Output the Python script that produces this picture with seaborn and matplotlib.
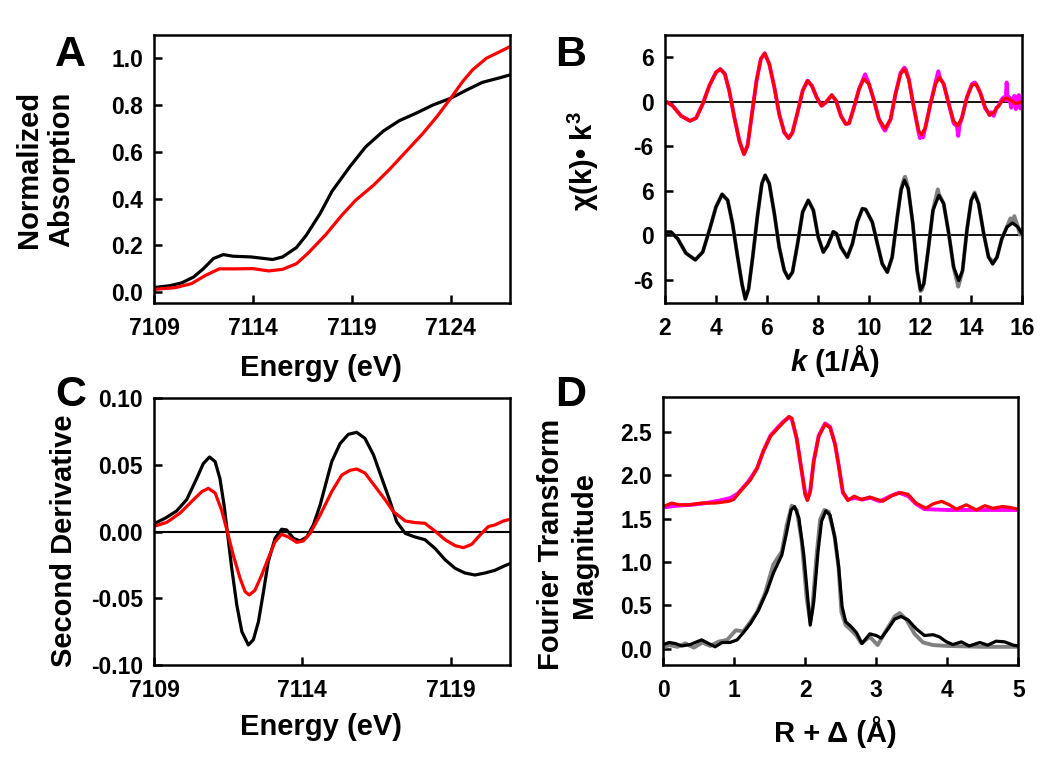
import numpy as np
import pandas as pd
import matplotlib
matplotlib.use('Agg')
import matplotlib.pyplot as plt
import seaborn as sns

# Panel A: normalized absorption edge (black and red samples)
a_black_e = [7109.0, 7109.8, 7110.4, 7111.0, 7111.5, 7112.0, 7112.5, 7113.0, 7113.9, 7115.0,
             7115.5, 7116.2, 7116.7, 7117.4, 7118.0, 7118.9, 7119.7, 7120.6, 7121.4, 7122.3,
             7123.1, 7124.0, 7124.8, 7125.6, 7126.5, 7127.0]
a_black_v = [0.019, 0.027, 0.039, 0.064, 0.100, 0.143, 0.160, 0.153, 0.150, 0.139,
             0.150, 0.190, 0.243, 0.336, 0.431, 0.536, 0.621, 0.689, 0.733, 0.767,
             0.800, 0.829, 0.864, 0.897, 0.917, 0.929]
a_red_e = [7109.0, 7110.1, 7110.9, 7111.6, 7112.3, 7113.1, 7114.0, 7114.8, 7115.5, 7116.2,
           7116.8, 7117.7, 7118.5, 7119.2, 7120.1, 7120.9, 7121.7, 7122.6, 7123.3, 7124.0,
           7124.6, 7125.1, 7125.8, 7126.5, 7127.0]
a_red_v = [0.011, 0.019, 0.036, 0.071, 0.099, 0.099, 0.100, 0.090, 0.097, 0.121,
           0.167, 0.247, 0.329, 0.393, 0.457, 0.524, 0.597, 0.679, 0.750, 0.829,
           0.900, 0.950, 1.000, 1.029, 1.050]

# Panel B: EXAFS chi(k)*k^3, upper pair (magenta data / red fit), lower pair (grey data / black fit)
b_red_k = [2.0, 2.3, 2.63, 2.98, 3.22, 3.48, 3.74, 4.0, 4.17, 4.35,
           4.52, 4.72, 4.92, 5.10, 5.24, 5.41, 5.59, 5.76, 5.91, 6.09,
           6.29, 6.48, 6.68, 6.85, 7.0, 7.2, 7.4, 7.59, 7.76, 7.95,
           8.14, 8.31, 8.54, 8.71, 8.90, 9.09, 9.22, 9.41, 9.61, 9.80,
           10.0, 10.2, 10.39, 10.63, 10.85, 11.04, 11.24, 11.39, 11.56, 11.76,
           11.95, 12.06, 12.21, 12.41, 12.61, 12.76, 12.93, 13.13, 13.32, 13.48,
           13.65, 13.84, 14.04, 14.2, 14.36, 14.56, 14.73, 14.89, 15.08, 15.28,
           15.41, 15.58, 15.73, 15.93, 16.0]
b_red_v = [0.14, -0.54, -1.9, -2.57, -2.2, -0.3, 2.16, 3.96, 4.41, 3.74,
           1.49, -2.1, -5.3, -7.07, -5.9, -1.67, 2.84, 5.77, 6.53, 5.09,
           1.94, -1.67, -4.14, -4.9, -4.14, -1.44, 1.49, 2.84, 2.16, 0.59,
           -0.54, -0.09, 0.9, 0.14, -1.9, -3.0, -2.9, -0.77, 1.71, 3.06,
           2.39, 0.14, -2.34, -3.6, -2.34, 1.04, 3.74, 4.41, 3.06, -0.77,
           -3.92, -4.46, -3.47, -0.3, 2.39, 3.29, 2.39, -0.3, -2.57, -3.24,
           -2.1, 0.59, 2.25, 2.39, 1.26, -0.77, -1.8, -1.44, -0.54, 0.36,
           0.5, 0.14, -0.23, -0.09, 0.0]
# magenta data follows the fit at low k, noisier points read at high k
b_mag_k_hi = [9.61, 9.80, 9.85, 10.0, 10.2, 10.39, 10.55, 10.63, 10.7, 10.85,
              11.04, 11.24, 11.39, 11.45, 11.56, 11.76, 11.95, 12.0, 12.06, 12.12,
              12.21, 12.41, 12.61, 12.72, 12.78, 12.93, 13.13, 13.32, 13.45, 13.5,
              13.55, 13.65, 13.84, 14.04, 14.15, 14.2, 14.36, 14.56, 14.65, 14.73,
              14.8, 14.89, 15.0, 15.08, 15.2, 15.28, 15.36, 15.4, 15.44, 15.5,
              15.58, 15.65, 15.7, 15.76, 15.82, 15.88, 15.93, 15.97, 16.0]
b_mag_v_hi = [1.71, 3.3, 3.7, 2.39, 0.14, -2.34, -3.5, -3.9, -3.4, -2.34,
              1.04, 3.9, 4.6, 4.3, 3.06, -0.77, -4.2, -4.9, -4.5, -4.8,
              -3.47, -0.3, 2.6, 4.1, 3.2, 2.39, -0.3, -2.9, -3.3, -4.6,
              -3.2, -2.1, 0.59, 2.4, 2.6, 2.39, 1.26, -0.9, -1.3, -1.8,
              -1.4, -1.9, -0.8, -0.6, 0.3, 0.6, 0.2, 2.6, 0.2, 0.6,
              -0.8, 0.4, 0.8, -1.0, 0.6, 0.9, -0.9, 0.3, -0.5]
b_black_k = [2.0, 2.24, 2.5, 2.82, 3.19, 3.48, 3.74, 4.0, 4.24, 4.46,
             4.65, 4.85, 5.02, 5.15, 5.28, 5.44, 5.63, 5.8, 5.93, 6.09,
             6.29, 6.48, 6.68, 6.84, 7.0, 7.2, 7.4, 7.62, 7.82, 8.01,
             8.21, 8.38, 8.6, 8.73, 8.9, 9.15, 9.35, 9.54, 9.74, 9.87,
             10.13, 10.33, 10.52, 10.72, 10.91, 11.11, 11.26, 11.39, 11.54, 11.72,
             11.89, 12.02, 12.15, 12.32, 12.51, 12.74, 12.93, 13.13, 13.32, 13.52,
             13.67, 13.84, 14.01, 14.14, 14.3, 14.5, 14.69, 14.85, 15.02, 15.21,
             15.41, 15.63, 15.84, 16.0]
b_black_v = [0.45, 0.45, -0.45, -2.39, -3.29, -2.25, 0.68, 3.83, 5.54, 4.73,
             1.58, -2.93, -6.53, -8.56, -7.2, -2.93, 2.7, 6.98, 8.1, 6.98,
             2.93, -1.58, -4.73, -5.77, -4.95, -1.13, 3.15, 4.73, 3.38, -0.23,
             -2.25, -1.35, 0.5, 0.23, -1.58, -2.93, -1.13, 1.8, 3.6, 3.5,
             1.8, -1.13, -3.83, -4.95, -2.93, 2.48, 6.08, 7.43, 6.3, 1.58,
             -4.73, -7.34, -6.53, -2.03, 3.38, 5.4, 4.28, 0.23, -4.28, -6.08,
             -4.73, 0.68, 4.73, 5.63, 4.28, 0.23, -2.93, -3.83, -2.93, -0.45,
             1.13, 1.67, 1.13, 0.23]
b_grey_k_hi = [11.11, 11.26, 11.39, 11.42, 11.54, 11.72, 11.89, 12.02, 12.08, 12.15,
               12.32, 12.51, 12.7, 12.74, 12.93, 13.13, 13.32, 13.5, 13.55, 13.67,
               13.84, 14.01, 14.14, 14.3, 14.5, 14.69, 14.8, 14.85, 15.02, 15.21,
               15.41, 15.55, 15.63, 15.7, 15.84, 15.92, 16.0]
b_grey_v_hi = [2.48, 6.3, 7.8, 7.9, 6.3, 1.58, -4.73, -7.5, -7.3, -6.53,
               -2.03, 3.38, 6.2, 5.6, 4.28, 0.23, -4.28, -6.9, -6.3, -4.73,
               0.68, 4.73, 5.8, 4.28, 0.23, -2.93, -3.3, -3.83, -2.93, -0.45,
               1.13, 2.3, 1.67, 2.6, 1.13, 0.1, 0.9]
b_offset = 18
b_ticks = [-6, 0, 6, 12, 18, 24]
b_ticklabels = ['-6', '0', '6', '-6', '0', '6']

# Panel C: second derivative of the edge
c_black_e = [7109.0, 7109.37, 7109.76, 7110.1, 7110.44, 7110.66, 7110.87, 7111.06, 7111.22, 7111.36,
             7111.47, 7111.62, 7111.79, 7111.96, 7112.18, 7112.35, 7112.52, 7112.69, 7112.85, 7113.08,
             7113.3, 7113.47, 7113.7, 7113.92, 7114.15, 7114.37, 7114.6, 7114.99, 7115.27, 7115.55,
             7115.83, 7116.11, 7116.4, 7116.68, 7116.96, 7117.18, 7117.47, 7117.8, 7118.13, 7118.47,
             7118.81, 7119.15, 7119.48, 7119.82, 7120.16, 7120.49, 7120.83, 7121.0]
c_black_v = [0.006, 0.010, 0.0155, 0.024, 0.040, 0.051, 0.056, 0.0525, 0.040, 0.020,
             0.0, -0.0275, -0.055, -0.075, -0.085, -0.081, -0.0675, -0.045, -0.0225, -0.005,
             0.0018, 0.0013, -0.005, -0.007, -0.004, 0.005, 0.020, 0.0525, 0.066, 0.073,
             0.0745, 0.070, 0.0575, 0.040, 0.0225, 0.0075, -0.0013, -0.004, -0.006, -0.0125,
             -0.021, -0.0275, -0.031, -0.0325, -0.031, -0.029, -0.0255, -0.024]
c_red_e = [7109.0, 7109.43, 7109.88, 7110.33, 7110.61, 7110.83, 7111.06, 7111.28, 7111.47, 7111.67,
           7111.9, 7112.07, 7112.21, 7112.4, 7112.63, 7112.85, 7113.08, 7113.3, 7113.53, 7113.81,
           7114.03, 7114.26, 7114.6, 7114.99, 7115.33, 7115.61, 7115.83, 7116.11, 7116.45, 7116.79,
           7117.07, 7117.47, 7117.8, 7118.13, 7118.47, 7118.81, 7119.15, 7119.43, 7119.71, 7119.99,
           7120.27, 7120.49, 7120.78, 7121.0]
c_red_v = [0.004, 0.007, 0.014, 0.024, 0.030, 0.0325, 0.029, 0.016, 0.0, -0.0175,
           -0.035, -0.045, -0.0475, -0.044, -0.0325, -0.020, -0.0075, -0.002, -0.004, -0.008,
           -0.007, -0.0013, 0.0125, 0.030, 0.0425, 0.046, 0.047, 0.044, 0.034, 0.024,
           0.015, 0.008, 0.0068, 0.0063, 0.0005, -0.006, -0.0105, -0.012, -0.0095, -0.0025,
           0.0038, 0.005, 0.008, 0.0093]

# Panel D: Fourier transform magnitude
d_red_r = [0.0, 0.12, 0.22, 0.36, 0.54, 0.73, 0.92, 0.99, 1.08, 1.23,
           1.32, 1.41, 1.51, 1.62, 1.69, 1.77, 1.81, 1.88, 1.95, 2.0,
           2.03, 2.07, 2.12, 2.19, 2.28, 2.35, 2.42, 2.47, 2.53, 2.60,
           2.69, 2.79, 2.91, 3.09, 3.23, 3.35, 3.45, 3.56, 3.70, 3.80,
           3.92, 4.03, 4.13, 4.27, 4.41, 4.53, 4.64, 4.78, 4.88, 5.0]
d_red_v = [1.64, 1.68, 1.66, 1.66, 1.68, 1.68, 1.70, 1.72, 1.81, 1.95,
           2.08, 2.28, 2.45, 2.55, 2.61, 2.68, 2.66, 2.43, 2.05, 1.78,
           1.71, 1.81, 2.16, 2.45, 2.59, 2.55, 2.36, 2.12, 1.81, 1.71,
           1.76, 1.72, 1.75, 1.70, 1.77, 1.80, 1.78, 1.68, 1.62, 1.67,
           1.70, 1.66, 1.61, 1.66, 1.60, 1.65, 1.62, 1.64, 1.63, 1.61]
d_mag_r = [0.0, 0.2, 0.4, 0.6, 0.8, 0.95, 1.05, 1.2, 1.32, 1.41,
           1.51, 1.62, 1.69, 1.77, 1.81, 1.88, 1.95, 2.0, 2.03, 2.07,
           2.12, 2.19, 2.28, 2.35, 2.42, 2.47, 2.53, 2.6, 2.7, 2.8,
           2.92, 3.05, 3.2, 3.32, 3.45, 3.56, 3.68, 4.0, 4.5, 5.0]
d_mag_v = [1.63, 1.65, 1.66, 1.68, 1.71, 1.74, 1.79, 1.93, 2.08, 2.28,
           2.46, 2.56, 2.62, 2.67, 2.65, 2.42, 2.05, 1.78, 1.72, 1.82,
           2.17, 2.46, 2.60, 2.56, 2.36, 2.12, 1.80, 1.72, 1.74, 1.72,
           1.74, 1.70, 1.76, 1.80, 1.76, 1.67, 1.61, 1.60, 1.60, 1.60]
d_black_r = [0.0, 0.08, 0.17, 0.26, 0.38, 0.47, 0.54, 0.64, 0.73, 0.83,
             0.94, 1.04, 1.13, 1.23, 1.34, 1.46, 1.55, 1.67, 1.74, 1.80,
             1.85, 1.91, 1.98, 2.04, 2.07, 2.12, 2.18, 2.23, 2.29, 2.35,
             2.42, 2.47, 2.52, 2.57, 2.65, 2.72, 2.80, 2.91, 3.0, 3.07,
             3.17, 3.26, 3.35, 3.45, 3.56, 3.68, 3.80, 3.89, 3.99, 4.08,
             4.20, 4.31, 4.46, 4.57, 4.69, 4.81, 4.93, 5.0]
d_black_v = [0.046, 0.07, 0.058, 0.03, 0.046, 0.077, 0.10, 0.058, 0.02, 0.07,
             0.07, 0.10, 0.185, 0.29, 0.44, 0.66, 0.87, 1.08, 1.35, 1.60,
             1.64, 1.51, 1.08, 0.54, 0.27, 0.54, 1.12, 1.47, 1.59, 1.54,
             1.27, 0.95, 0.48, 0.31, 0.25, 0.185, 0.058, 0.17, 0.15, 0.12,
             0.23, 0.34, 0.37, 0.33, 0.23, 0.15, 0.16, 0.135, 0.077, 0.046,
             0.077, 0.03, 0.07, 0.039, 0.085, 0.077, 0.039, 0.03]
d_grey_r = [0.0, 0.08, 0.2, 0.31, 0.43, 0.55, 0.66, 0.78, 0.9, 1.02,
            1.13, 1.23, 1.32, 1.43, 1.55, 1.67, 1.74, 1.81, 1.88, 1.95,
            2.02, 2.07, 2.10, 2.16, 2.21, 2.27, 2.33, 2.41, 2.47, 2.51,
            2.57, 2.65, 2.72, 2.79, 2.91, 3.02, 3.14, 3.26, 3.33, 3.42,
            3.54, 3.66, 3.80, 4.0, 4.5, 5.0]
d_grey_v = [0.01, 0.04, 0.02, 0.06, 0.01, 0.07, 0.03, 0.08, 0.10, 0.21,
            0.20, 0.31, 0.42, 0.63, 0.97, 1.12, 1.43, 1.65, 1.60, 1.24,
            0.58, 0.31, 0.46, 1.08, 1.49, 1.60, 1.58, 1.31, 0.93, 0.42,
            0.27, 0.21, 0.15, 0.06, 0.135, 0.04, 0.21, 0.37, 0.41, 0.34,
            0.17, 0.07, 0.04, 0.03, 0.02, 0.02]

# Style
sns.set_style('ticks', {'axes.edgecolor': 'black', 'text.color': 'black',
                        'xtick.color': 'black', 'ytick.color': 'black',
                        'axes.labelcolor': 'black'})
plt.rcParams['font.family'] = ['Liberation Sans', 'DejaVu Sans']
plt.rcParams['font.weight'] = 'bold'
plt.rcParams['axes.labelweight'] = 'bold'
plt.rcParams['axes.unicode_minus'] = False
plt.rcParams['mathtext.fontset'] = 'custom'
plt.rcParams['mathtext.rm'] = 'Liberation Sans:bold'
plt.rcParams['mathtext.it'] = 'Liberation Sans:bold:italic'
plt.rcParams['mathtext.bf'] = 'Liberation Sans:bold'

TICK_FS = 16.5
LABEL_FS = 21
LW = 2.3


def style_axes(ax):
    for sp in ax.spines.values():
        sp.set_visible(True)
        sp.set_linewidth(1.8)
    ax.tick_params(direction='in', length=6, width=1.8, labelsize=TICK_FS, pad=8)
    ax.tick_params(axis='x', pad=10)
    for lab in ax.get_xticklabels() + ax.get_yticklabels():
        lab.set_fontweight('bold')


def line(ax, x, y, color, lw=LW):
    df = pd.DataFrame({'x': x, 'y': y})
    sns.lineplot(data=df, x='x', y='y', color=color, lw=lw, ax=ax,
                 sort=False, estimator=None)


fig = plt.figure(figsize=(10.5, 7.58), dpi=100)
axA = fig.add_axes([0.1467, 0.6003, 0.339, 0.3536])
axB = fig.add_axes([0.6333, 0.6003, 0.340, 0.3536])
axC = fig.add_axes([0.1467, 0.1227, 0.339, 0.3518])
axD = fig.add_axes([0.6317, 0.1227, 0.338, 0.3530])

# A
line(axA, a_black_e, a_black_v, 'black')
line(axA, a_red_e, a_red_v, 'red')
axA.set_xlim(7109, 7127)
axA.set_ylim(-0.047, 1.10)
axA.set_xticks([7109, 7114, 7119, 7124])
axA.set_yticks([0.0, 0.2, 0.4, 0.6, 0.8, 1.0])
axA.set_yticklabels(['0.0', '0.2', '0.4', '0.6', '0.8', '1.0'])
axA.set_xlabel('Energy (eV)', fontsize=LABEL_FS)
axA.set_ylabel('Normalized\nAbsorption', fontsize=LABEL_FS, linespacing=1.2)
axA.xaxis.set_label_coords(0.47, -0.19)
axA.yaxis.set_label_coords(-0.222, 0.5)

# B
axB.axhline(0, color='black', lw=1.3, zorder=1)
axB.axhline(b_offset, color='black', lw=1.3, zorder=1)
b_mag_k = [k for k in b_red_k if k < 9.5] + b_mag_k_hi
b_mag_v = [v for k, v in zip(b_red_k, b_red_v) if k < 9.5] + b_mag_v_hi
line(axB, b_mag_k, np.array(b_mag_v) + b_offset, 'magenta', lw=2.8)
line(axB, b_red_k, np.array(b_red_v) + b_offset, 'red')
b_grey_k = [k for k in b_black_k if k < 11.0] + b_grey_k_hi
b_grey_v = [v for k, v in zip(b_black_k, b_black_v) if k < 11.0] + b_grey_v_hi
line(axB, b_grey_k, b_grey_v, 'grey', lw=2.8)
line(axB, b_black_k, b_black_v, 'black')
axB.set_xlim(2, 16)
axB.set_ylim(-9.1, 27.0)
axB.set_xticks([2, 4, 6, 8, 10, 12, 14, 16])
axB.set_yticks(b_ticks)
axB.set_yticklabels(b_ticklabels)
axB.set_xlabel(r'$\mathit{k}$ (1/Å)', fontsize=LABEL_FS)
axB.set_ylabel(r'χ(k)• k$^{3}$', fontsize=LABEL_FS)
axB.xaxis.set_label_coords(0.476, -0.15)
axB.yaxis.set_label_coords(-0.18, 0.53)

# C
axC.axhline(0, color='black', lw=1.5, zorder=1)
line(axC, c_black_e, c_black_v, 'black')
line(axC, c_red_e, c_red_v, 'red')
axC.set_xlim(7109, 7121)
axC.set_ylim(-0.10, 0.10)
axC.set_xticks([7109, 7114, 7119])
axC.set_yticks([-0.10, -0.05, 0.0, 0.05, 0.10])
axC.set_yticklabels(['-0.10', '-0.05', '0.00', '0.05', '0.10'])
axC.set_xlabel('Energy (eV)', fontsize=LABEL_FS)
axC.set_ylabel('Second Derivative', fontsize=LABEL_FS)
axC.xaxis.set_label_coords(0.47, -0.18)
axC.yaxis.set_label_coords(-0.215, 0.465)

# D
line(axD, d_mag_r, d_mag_v, 'magenta', lw=2.8)
line(axD, d_red_r, d_red_v, 'red')
line(axD, d_grey_r, d_grey_v, 'grey', lw=2.8)
line(axD, d_black_r, d_black_v, 'black')
axD.set_xlim(0, 5)
axD.set_ylim(-0.19, 2.9)
axD.set_xticks([0, 1, 2, 3, 4, 5])
axD.set_yticks([0.0, 0.5, 1.0, 1.5, 2.0, 2.5])
axD.set_yticklabels(['0.0', '0.5', '1.0', '1.5', '2.0', '2.5'])
axD.set_xlabel('R + Δ (Å)', fontsize=LABEL_FS)
axD.set_ylabel('Fourier Transform\nMagnitude', fontsize=LABEL_FS, linespacing=1.2)
axD.xaxis.set_label_coords(0.484, -0.19)
axD.yaxis.set_label_coords(-0.185, 0.45)

for ax in (axA, axB, axC, axD):
    style_axes(ax)

# panel letters
for letter, x, y in [('A', 55, 66), ('B', 555, 66), ('C', 55, 406), ('D', 555, 406)]:
    fig.text(x / 1050, 1 - y / 758, letter, fontsize=31, fontweight='bold',
             ha='left', va='baseline')

fig.savefig('out.png', dpi=100)
